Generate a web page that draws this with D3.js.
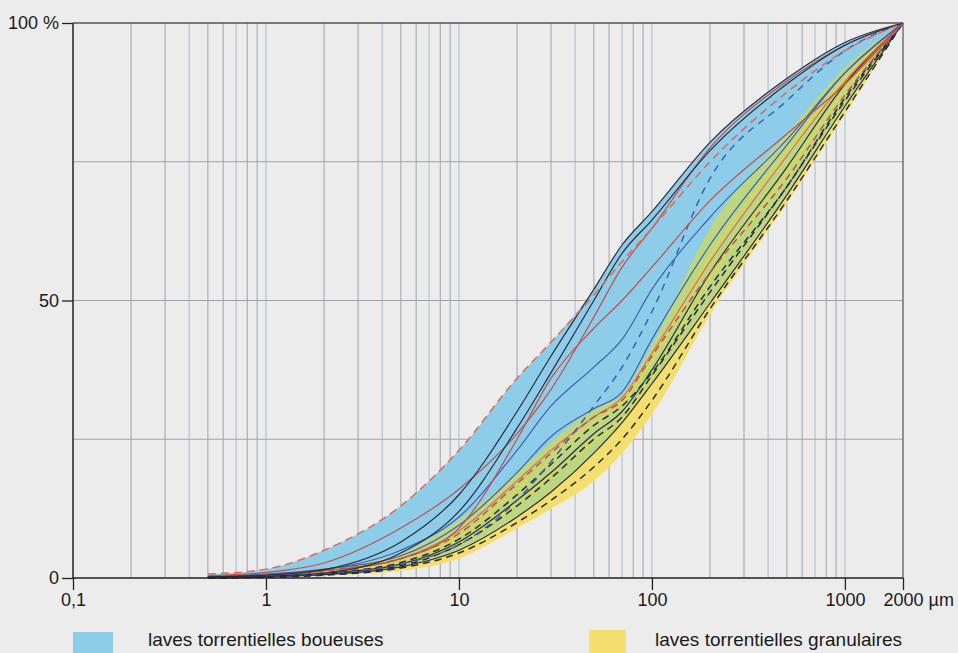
<!DOCTYPE html>
<html lang="fr">
<head>
<meta charset="UTF-8">
<title>Courbes granulométriques</title>
<script src="https://d3js.org/d3.v7.min.js"></script>
<style>
  body { margin: 0; background: #ececec; }
  svg { display: block; font-family: "Liberation Sans", Arial, sans-serif; }
</style>
</head>
<body>
<script>
// grain sizes (µm) where every curve is read
const sizes = [0.5, 1, 2, 5, 10, 20, 30, 50, 70, 100, 200, 500, 1000, 2000];

// envelopes (% passing)
const blueTop      = [0.7, 1.6, 5, 13, 23, 36, 42.5, 52, 60, 66, 78.5, 90, 96.5, 100];
const blueBottom   = [0, 0.2, 0.6, 2, 5, 11, 15.5, 22.5, 28, 35, 49.5, 69, 85, 100];
const yellowTop    = [0.3, 0.8, 1.8, 4.5, 10.5, 19, 24.5, 30.5, 33, 42, 63, 80, 92, 100];
const yellowBottom = [0, 0.1, 0.4, 1.3, 3.5, 9, 12.5, 17.5, 22.5, 29.5, 47.5, 67.5, 83.5, 100];

// muddy flows curves
const redDashTop = [0.7, 1.6, 5, 13, 23, 36, 42.5, 51, 57, 63, 75, 87.5, 95, 100];
const blackTop1  = [0.2, 0.5, 1.5, 6.5, 15, 30, 40, 52, 60, 66, 78.5, 90, 96.5, 100];
const blackTop2  = [0.1, 0.3, 0.9, 4.5, 12, 27, 37, 50, 58.5, 64.5, 77, 89, 96, 100];
const redTop     = [0.4, 1, 2.7, 9, 16, 26, 34, 47, 56, 63, 77.5, 89.5, 96, 100];
const redMid     = [0.2, 0.5, 1.3, 3.5, 9, 25, 36, 45, 50, 56, 68, 80, 89, 100];
const blueMid    = [0.2, 0.5, 1.5, 5, 11, 23, 31, 38, 43, 52, 65, 79, 91, 100];
const blueDashUp = [0.1, 0.3, 0.8, 2.5, 6, 14, 21, 31, 38, 48, 72, 86, 95, 100];

// granular flows curves
const blueLow     = [0.3, 0.7, 1.6, 4, 9.5, 19, 25.5, 30.5, 33.5, 43, 60, 78, 91, 100];
const redDashLow  = [0.2, 0.6, 1.4, 3.5, 8, 17, 22.5, 29, 32, 40, 55, 72, 87, 100];
const redLow      = [0.2, 0.5, 1.3, 3.5, 8.5, 17.5, 23, 29, 32.5, 40.5, 57, 76, 89.5, 100];
const yellowLine1 = [0.1, 0.4, 1.1, 3, 7.5, 16, 21.5, 28, 31.5, 39, 58, 77, 90, 100];
const yellowLine2 = [0.1, 0.3, 0.9, 2.5, 6, 13.5, 18.5, 24.5, 28.5, 36, 54, 73, 88, 100];
const blackLow1   = [0.1, 0.3, 0.8, 2.5, 6.5, 14, 19, 26, 30, 37.5, 55, 74, 89, 100];
const blackDash1  = [0.1, 0.3, 0.9, 2.8, 7, 15, 20.5, 27.5, 31, 37, 52.5, 70.5, 86.5, 100];
const blackDash2  = [0.05, 0.2, 0.7, 2.2, 6, 13, 18, 25, 29, 36.5, 51.5, 70.5, 86, 100];
const blackLow2   = [0, 0.2, 0.6, 2, 5, 11, 15.5, 22.5, 28, 35, 49.5, 69, 85, 100];
const blackDash3  = [0, 0.1, 0.5, 1.8, 4.5, 10, 14, 20, 25, 32, 48.5, 68, 84, 100];

// axes
const xTickValues = [0.1, 1, 10, 100, 1000, 2000];
const xTickLabels = ["0,1", "1", "10", "100", "1000", "2000 µm"];
const yTickValues = [0, 50, 100];
const yTickLabels = ["0", "50", "100 %"];
const yGridValues = [25, 50, 75];

const legendLabels = ["laves torrentielles boueuses", "laves torrentielles granulaires"];

const width = 958, height = 653;
const svg = d3.select("body").append("svg")
    .attr("width", width)
    .attr("height", height);

const x = d3.scaleLog().domain([0.1, 2000]).range([73, 903]);
const y = d3.scaleLinear().domain([0, 100]).range([578, 23]);

// grid
const gridColor = "#9ea2a8";
svg.append("g").selectAll("line")
    .data(x.ticks().filter(d => d > 0.1 && d < 2000))
    .join("line")
    .attr("x1", d => x(d)).attr("x2", d => x(d))
    .attr("y1", y(100)).attr("y2", y(0))
    .attr("stroke", (d, i) => i % 3 === 2 ? "#a9bccb" : gridColor)
    .attr("stroke-width", 1);

svg.append("g").selectAll("line")
    .data(yGridValues)
    .join("line")
    .attr("x1", x(0.1)).attr("x2", x(2000))
    .attr("y1", d => y(d)).attr("y2", d => y(d))
    .attr("stroke", gridColor)
    .attr("stroke-width", 1);

// envelopes
const band = (lo, hi) => sizes.map((s, i) => ({ s: s, lo: lo[i], hi: hi[i] }));
const area = d3.area()
    .x(d => x(d.s))
    .y0(d => y(d.lo))
    .y1(d => y(d.hi))
    .curve(d3.curveMonotoneX);

const blueBand = band(blueBottom, blueTop);
const yellowBand = band(yellowBottom, yellowTop);

svg.append("defs").append("clipPath").attr("id", "blue-clip")
    .append("path").attr("d", area(blueBand));

svg.append("path").attr("d", area(yellowBand)).attr("fill", "#f4df6e");
svg.append("path").attr("d", area(blueBand)).attr("fill", "#8dcdea");
svg.append("path").attr("d", area(yellowBand)).attr("fill", "#bcd681")
    .attr("clip-path", "url(#blue-clip)");

// curves
const line = d3.line()
    .x((d, i) => x(sizes[i]))
    .y(d => y(d))
    .curve(d3.curveMonotoneX);

const black = "#2a2c3c", blue = "#3f5fb8", red = "#c2504a", orange = "#e3694f", yellow = "#e4dc3a";
const curves = [
    { v: yellowLine1, c: yellow, dash: null },
    { v: yellowLine2, c: yellow, dash: null },
    { v: blackDash3, c: black, dash: "7,5" },
    { v: blackLow2, c: black, dash: null },
    { v: blackDash2, c: black, dash: "7,5" },
    { v: blackDash1, c: black, dash: "7,5" },
    { v: blackLow1, c: black, dash: null },
    { v: redLow, c: orange, dash: null },
    { v: redDashLow, c: red, dash: "7,5" },
    { v: blueLow, c: blue, dash: null },
    { v: blueDashUp, c: blue, dash: "7,6" },
    { v: blueMid, c: blue, dash: null },
    { v: redMid, c: red, dash: null },
    { v: redTop, c: red, dash: null },
    { v: blackTop2, c: black, dash: null },
    { v: blackTop1, c: black, dash: null },
    { v: redDashTop, c: orange, dash: "8,5" }
];

svg.append("g").selectAll("path")
    .data(curves)
    .join("path")
    .attr("d", d => line(d.v))
    .attr("fill", "none")
    .attr("stroke", d => d.c)
    .attr("stroke-width", d => d.dash ? 1.5 : 1.2)
    .attr("stroke-dasharray", d => d.dash);

// frame
svg.append("line").attr("x1", x(0.1)).attr("x2", x(2000)).attr("y1", y(100)).attr("y2", y(100))
    .attr("stroke", "#555").attr("stroke-width", 1.5);
svg.append("line").attr("x1", x(2000)).attr("x2", x(2000)).attr("y1", y(100)).attr("y2", y(0))
    .attr("stroke", "#555").attr("stroke-width", 1.2);
svg.append("line").attr("x1", x(0.1)).attr("x2", x(0.1)).attr("y1", y(100)).attr("y2", y(0))
    .attr("stroke", "#222").attr("stroke-width", 1.5);
svg.append("line").attr("x1", x(0.1)).attr("x2", x(2000)).attr("y1", y(0)).attr("y2", y(0))
    .attr("stroke", "#222").attr("stroke-width", 1.5);

// x axis
const xAxis = svg.append("g")
    .attr("transform", `translate(0,${y(0)})`)
    .call(d3.axisBottom(x).tickValues(xTickValues)
        .tickFormat((d, i) => xTickLabels[i]).tickSize(12).tickPadding(3));
xAxis.select(".domain").remove();
xAxis.selectAll("line").attr("stroke", "#222").attr("stroke-width", 1.3);
xAxis.selectAll("text").attr("font-size", 18).attr("font-family", "Liberation Sans, Arial, sans-serif")
    .attr("fill", "#1a1a1a");
xAxis.selectAll(".tick").filter(d => d === 2000).select("text")
    .attr("text-anchor", "start").attr("x", -20);

// y axis
const yAxis = svg.append("g")
    .attr("transform", `translate(${x(0.1)},0)`)
    .call(d3.axisLeft(y).tickValues(yTickValues)
        .tickFormat((d, i) => yTickLabels[i]).tickSize(11).tickPadding(3));
yAxis.select(".domain").remove();
yAxis.selectAll("line").attr("stroke", "#222").attr("stroke-width", 1.3);
yAxis.selectAll("text").attr("font-size", 18).attr("font-family", "Liberation Sans, Arial, sans-serif")
    .attr("fill", "#1a1a1a");

// legend
const legend = svg.append("g");
legend.append("rect").attr("x", 73).attr("y", 632).attr("width", 40).attr("height", 24).attr("fill", "#8dcdea");
legend.append("text").attr("x", 148).attr("y", 646).attr("font-size", 19).attr("fill", "#1a1a1a")
    .text(legendLabels[0]);
legend.append("rect").attr("x", 589).attr("y", 630).attr("width", 37).attr("height", 26).attr("fill", "#f4df6e");
legend.append("text").attr("x", 655).attr("y", 646).attr("font-size", 19).attr("fill", "#1a1a1a")
    .text(legendLabels[1]);
</script>
</body>
</html>
